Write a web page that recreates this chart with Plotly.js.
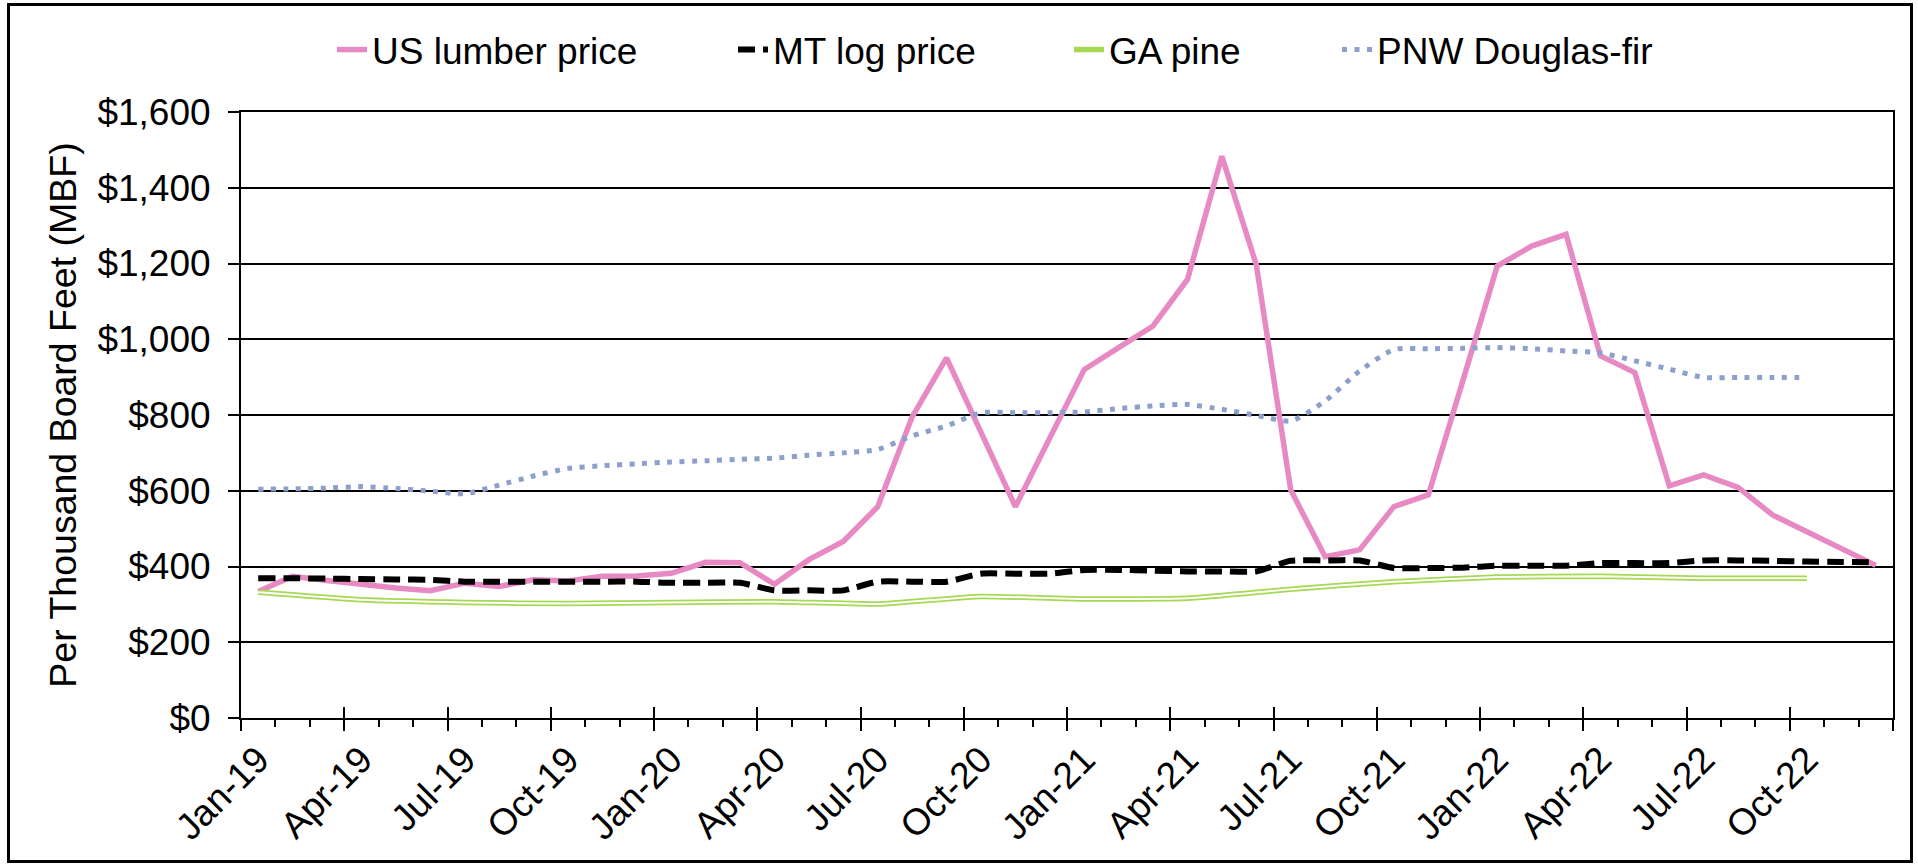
<!DOCTYPE html>
<html><head><meta charset="utf-8">
<script src="https://cdn.plot.ly/plotly-3.0.1.min.js"></script>
<style>
html,body{margin:0;padding:0;background:#fff;}
#chart{position:absolute;left:0;top:0;width:1918px;height:865px;}
#frame{position:absolute;left:7px;top:3px;width:1906px;height:860px;border:3px solid #000;box-sizing:border-box;pointer-events:none;}
</style>
</head><body><div id="chart"></div><div id="frame"></div>
<script>
const months = ["Jan-19","Feb-19","Mar-19","Apr-19","May-19","Jun-19","Jul-19","Aug-19","Sep-19","Oct-19","Nov-19","Dec-19",
  "Jan-20","Feb-20","Mar-20","Apr-20","May-20","Jun-20","Jul-20","Aug-20","Sep-20","Oct-20","Nov-20","Dec-20",
  "Jan-21","Feb-21","Mar-21","Apr-21","May-21","Jun-21","Jul-21","Aug-21","Sep-21","Oct-21","Nov-21","Dec-21",
  "Jan-22","Feb-22","Mar-22","Apr-22","May-22","Jun-22","Jul-22","Aug-22","Sep-22","Oct-22","Nov-22","Dec-22"];
const tickLabels = ["Jan-19","Apr-19","Jul-19","Oct-19","Jan-20","Apr-20","Jul-20","Oct-20","Jan-21","Apr-21","Jul-21","Oct-21","Jan-22","Apr-22","Jul-22","Oct-22"];

const usLumber = [334,374,363,352,343,336,356,347,365,362,374,375,382,411,410,353,418,466,558,795,951,755,558,739,920,978,1035,1158,1483,1197,602,426,444,558,589,890,1193,1246,1277,956,912,613,642,609,536,492,447,403];
const mtLog = [369,369,368,367,366,365,360,360,360,360,360,360,357,357,357,337,337,337,360,360,360,381,381,381,391,391,389,387,387,387,415,416,416,396,396,397,402,402,402,409,409,409,416,416,415,413,412,411];
const gaPine = [332,null,null,312,null,null,305,null,null,302,null,null,305,null,null,307,null,null,301,null,null,321,null,null,314,null,null,316,null,null,340,null,null,360,null,null,372,null,null,374,null,null,369,null,null,369,null,null];
const pnwFir = [604,605,607,611,606,599,592,615,639,659,666,671,676,679,683,686,694,700,709,745,771,806,806,806,808,817,824,828,815,799,784,837,916,973,975,976,978,975,969,964,943,921,899,899,899,899,null,null];

const idx = months.map((m, i) => i);
const tickIdx = tickLabels.map(t => months.indexOf(t));
const FONT = "Liberation Sans, Arial, sans-serif";

const traces = [
  {x: idx, y: usLumber, name: "US lumber price", mode: "lines", legend: "legend",
   line: {color: "#E78AC3", width: 5.5}},
  {x: idx, y: mtLog, name: "MT log price", mode: "lines", legend: "legend2",
   line: {color: "#000000", width: 6, dash: "17px,8px", shape: "spline", smoothing: 0.6}},
  {x: idx, y: gaPine, name: "GA pine", mode: "lines", legend: "legend3", connectgaps: true,
   line: {color: "#A6D854", width: 5.5, shape: "spline", smoothing: 0.4}},
  {x: idx, y: gaPine, name: "GA pine inner", mode: "lines", showlegend: false, connectgaps: true,
   line: {color: "#ffffff", width: 2, shape: "spline", smoothing: 0.4}, hoverinfo: "skip"},
  {x: idx, y: pnwFir, name: "PNW Douglas-fir", mode: "lines", legend: "legend4",
   line: {color: "#8DA0CB", width: 5, dash: "5px,7.5px", shape: "spline", smoothing: 0.6}},
  {x: [], y: [], xaxis: "x2", showlegend: false, hoverinfo: "skip"},
  {x: [], y: [], xaxis: "x3", showlegend: false, hoverinfo: "skip"}
];

const xr = [-0.5, months.length - 0.5];
function leg(textX) {
  return {x: (textX - 40) / 1918, y: 1 - 50 / 865, xref: "container", yref: "container",
    xanchor: "left", yanchor: "middle", orientation: "h", bgcolor: "rgba(0,0,0,0)",
    font: {family: FONT, size: 37, color: "#000"}};
}

const layout = {
  width: 1918, height: 865, autosize: false,
  margin: {l: 241, r: 25, t: 112, b: 146.5},
  paper_bgcolor: "#fff", plot_bgcolor: "#fff",
  font: {family: FONT, color: "#000"},
  showlegend: true,
  legend: leg(372), legend2: leg(773), legend3: leg(1109), legend4: leg(1377),
  xaxis: {
    type: "linear", range: xr, tickmode: "array", tickvals: tickIdx, ticktext: tickLabels,
    tickangle: -45, ticks: "outside", ticklen: 3, tickcolor: "rgba(0,0,0,0)",
    tickfont: {family: FONT, size: 37, color: "#000"},
    showgrid: false, zeroline: false, showline: true, linecolor: "#000", linewidth: 2, mirror: true
  },
  xaxis2: {
    type: "linear", range: xr, overlaying: "x", anchor: "y", side: "bottom",
    tickmode: "linear", tick0: -0.5, dtick: 3, ticks: "outside", ticklen: 12, tickwidth: 2, tickcolor: "#000",
    showticklabels: false, showgrid: false, zeroline: false, showline: false,
    minor: {tickmode: "linear", tick0: -0.5, dtick: 1, ticks: "outside", ticklen: 8, tickwidth: 2, tickcolor: "#000", showgrid: false}
  },
  xaxis3: {
    type: "linear", range: xr, overlaying: "x", anchor: "y", side: "bottom",
    tickmode: "linear", tick0: -0.5, dtick: 3, ticks: "inside", ticklen: 11, tickwidth: 2, tickcolor: "#000",
    showticklabels: false, showgrid: false, zeroline: false, showline: false
  },
  yaxis: {
    range: [0, 1600], dtick: 200, tick0: 0, tickformat: "$,.0f",
    ticks: "outside", ticklen: 11, tickwidth: 2, tickcolor: "#000", ticklabelstandoff: 10,
    tickfont: {family: FONT, size: 37, color: "#000"},
    showgrid: true, gridcolor: "#000", gridwidth: 2, zeroline: false,
    showline: true, linecolor: "#000", linewidth: 2, mirror: true,
    title: {text: "Per Thousand Board Feet (MBF)", font: {family: FONT, size: 37.5, color: "#000"}, standoff: 9}
  }
};

Plotly.newPlot("chart", traces, layout, {displayModeBar: false, staticPlot: true});
</script></body></html>
